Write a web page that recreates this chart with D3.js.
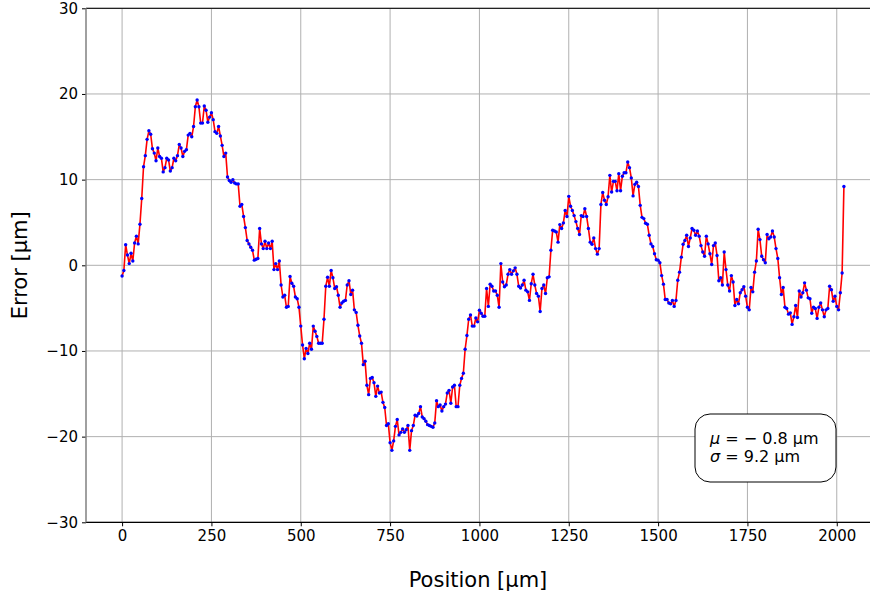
<!DOCTYPE html>
<html>
<head>
<meta charset="utf-8">
<script src="https://cdn.jsdelivr.net/npm/d3@7"></script>
<style>
  body { margin: 0; background: #fff; }
  svg { display: block; font-family: "DejaVu Sans", sans-serif; }
</style>
</head>
<body>
<svg id="chart" width="870" height="597"></svg>
<script>
/* measured error along the scan, one sample every 5 µm starting at 0 */
const xStart = 0, xStep = 5

const errors = [
  -1.25, -0.6, 2.4, 1.2, 0.2, 1.4, 0.5, 2.6, 3.4, 2.5,
  4.8, 7.8, 11.5, 12.8, 14.7, 15.7, 15.3, 13.6, 13.1, 12.2,
  13.7, 12.7, 12.5, 10.9, 11.4, 12.5, 12.3, 11.0, 11.4, 12.5,
  12.2, 12.8, 14.1, 13.7, 12.7, 13.3, 13.5, 15.2, 15.4, 15.0,
  16.2, 18.5, 19.3, 18.5, 16.6, 16.6, 18.6, 18.1, 16.7, 17.3,
  17.8, 17.0, 15.6, 15.4, 16.2, 15.1, 14.0, 12.7, 13.1, 10.3,
  9.9, 9.7, 10.0, 9.6, 9.5, 9.5, 6.9, 7.1, 5.7, 4.4,
  2.9, 2.5, 2.1, 1.75, 0.6, 0.7, 0.8, 4.3, 2.5, 1.95,
  2.8, 1.95, 2.6, 1.95, 2.8, -0.5, 0.2, -0.5, 0.5, -2.3,
  -3.7, -3.5, -4.9, -4.8, -1.3, -2.1, -2.45, -3.7, -3.9, -4.9,
  -7.1, -9.3, -10.9, -9.7, -10.3, -9.1, -9.8, -7.1, -7.7, -8.3,
  -9.1, -9.1, -9.1, -6.3, -2.45, -1.4, -2.45, -0.6, -1.45, -2.7,
  -2.5, -3.5, -4.9, -4.4, -4.2, -4.1, -2.3, -1.8, -3.4, -2.9,
  -5.2, -5.5, -7.0, -8.25, -9.1, -11.6, -11.2, -14.0, -15.1, -13.2,
  -13.1, -13.7, -15.3, -14.1, -14.9, -14.8, -16.0, -16.6, -18.7, -18.5,
  -20.7, -21.6, -20.5, -18.8, -18.0, -19.8, -19.5, -19.1, -19.5, -19.2,
  -18.7, -21.6, -19.3, -18.7, -17.5, -17.6, -17.3, -16.5, -17.7, -17.9,
  -18.2, -18.6, -18.7, -18.8, -18.9, -18.4, -15.8, -16.5, -16.3, -17.0,
  -16.5, -16.2, -14.9, -14.6, -16.1, -14.2, -14.0, -16.5, -16.5, -14.0,
  -13.2, -12.6, -9.8, -8.2, -6.3, -5.8, -7.1, -7.1, -6.15, -6.6,
  -5.25, -5.6, -5.95, -5.95, -2.7, -4.8, -2.2, -2.45, -3.0, -3.0,
  -3.5, -4.9, 0.2, -1.95, -2.5, -2.3, -1.05, -0.5, -1.05, -0.65,
  -0.3, -1.05, -2.45, -2.65, -2.3, -1.75, -2.9, -3.1, -4.1, -2.15,
  -1.05, -2.3, -3.3, -3.6, -5.4, -2.7, -2.3, -3.3, -1.45, -1.35,
  1.75, 4.1, 4.0, 3.9, 2.7, 4.75, 4.3, 4.95, 6.4, 5.7,
  8.05, 6.9, 6.4, 5.8, 5.1, 4.3, 3.6, 5.8, 5.7, 6.6,
  5.7, 4.3, 2.7, 2.45, 3.2, 1.95, 1.3, 1.95, 7.1, 8.5,
  7.6, 7.1, 8.0, 10.5, 8.55, 9.8, 9.8, 8.7, 10.7, 8.7,
  10.4, 10.8, 10.8, 12.05, 11.4, 10.2, 8.1, 9.45, 9.7, 9.2,
  7.0, 5.6, 5.45, 4.9, 4.8, 3.5, 2.5, 2.2, 1.35, 0.65,
  0.6, 0.3, -1.2, -2.2, -4.0, -4.0, -4.4, -4.5, -4.1, -4.8,
  -4.1, -1.75, -0.8, 0.95, 2.45, 2.9, 3.5, 2.2, 3.2, 4.3,
  4.1, 3.5, 4.0, 3.4, 2.3, 1.55, 1.05, 3.4, 2.5, 1.35,
  0.1, 2.3, 2.6, 1.15, -1.8, -1.45, -2.3, 1.55, -0.5, -2.3,
  -3.0, -1.2, -1.95, -4.7, -4.0, -4.5, -3.2, -2.85, -2.5, -3.6,
  -4.9, -5.2, -2.6, -3.1, -0.8, 0.5, 4.2, 3.0, 1.05, 0.65,
  0.3, 3.6, 3.1, 3.3, 4.0, 3.3, 1.95, 0.8, -1.45, -3.4,
  -2.6, -4.9, -5.05, -5.7, -5.55, -6.9, -6.0, -4.7, -6.1, -3.0,
  -3.7, -3.2, -2.05, -2.9, -3.8, -3.9, -5.6, -4.9, -5.05, -6.2,
  -4.9, -4.4, -5.2, -6.0, -5.2, -5.05, -2.45, -2.85, -4.2, -3.6,
  -4.8, -5.2, -3.2, -0.9, 9.2
]

const xTicks = [0, 250, 500, 750, 1000, 1250, 1500, 1750, 2000]
const yTicks = [-30, -20, -10, 0, 10, 20, 30]
const statLines = [
  {sym: "μ", text: " = − 0.8 µm"},
  {sym: "σ", text: " = 9.2 µm"}
]

const points = errors.map((e, i) => ({pos: xStart + i * xStep, err: e}))

const svg = d3.select("#chart")
const pLeft = 86, pTop = 8.3, pBottom = 522.3, pRight = 880

const x = d3.scaleLinear().domain([-101, 2121]).range([pLeft, pRight])
const y = d3.scaleLinear().domain([-30, 30]).range([pBottom, pTop])

const fmt = d => (d < 0 ? "\u2212" + Math.abs(d) : "" + d)

// grid
svg.append("g")
    .selectAll("line")
    .data(xTicks)
    .enter()
    .append("line")
    .attr("x1", d => x(d)).attr("x2", d => x(d))
    .attr("y1", pTop).attr("y2", pBottom)
    .attr("stroke", "#b0b0b0").attr("stroke-width", 1)

svg.append("g")
    .selectAll("line")
    .data(yTicks)
    .enter()
    .append("line")
    .attr("x1", pLeft).attr("x2", pRight)
    .attr("y1", d => y(d)).attr("y2", d => y(d))
    .attr("stroke", "#b0b0b0").attr("stroke-width", 1)

// axes
const xAxis = d3.axisBottom(x).tickValues(xTicks).tickFormat(fmt).tickSize(4).tickPadding(4)
const yAxis = d3.axisLeft(y).tickValues(yTicks).tickFormat(fmt).tickSize(4).tickPadding(4)

const gx = svg.append("g")
    .attr("transform", "translate(0," + pBottom + ")")
    .call(xAxis)
gx.select(".domain").remove()
gx.selectAll("text").attr("font-size", 15).attr("fill", "#000").attr("font-family", "DejaVu Sans")
gx.selectAll("line").attr("stroke", "#000")

const gy = svg.append("g")
    .attr("transform", "translate(" + pLeft + ",0)")
    .call(yAxis)
gy.select(".domain").remove()
gy.selectAll("text").attr("font-size", 15).attr("fill", "#000").attr("font-family", "DejaVu Sans")
gy.selectAll("line").attr("stroke", "#000")

// spines
svg.append("line").attr("x1", pLeft).attr("x2", pRight).attr("y1", pTop).attr("y2", pTop)
    .attr("stroke", "#222").attr("stroke-width", 1.2)
svg.append("line").attr("x1", pLeft).attr("x2", pRight).attr("y1", pBottom).attr("y2", pBottom)
    .attr("stroke", "#000").attr("stroke-width", 1.2)
svg.append("line").attr("x1", pLeft).attr("x2", pLeft).attr("y1", pTop).attr("y2", pBottom)
    .attr("stroke", "#808080").attr("stroke-width", 1.5)

// series
const line = d3.line().x(d => x(d.pos)).y(d => y(d.err))

svg.append("path")
    .datum(points)
    .attr("d", line)
    .attr("fill", "none")
    .attr("stroke", "#ff0000")
    .attr("stroke-width", 1.6)
    .attr("stroke-linejoin", "round")

svg.append("g")
    .selectAll("circle")
    .data(points)
    .enter()
    .append("circle")
    .attr("cx", d => x(d.pos))
    .attr("cy", d => y(d.err))
    .attr("r", 1.7)
    .attr("fill", "#0000ff")

// labels
svg.append("text")
    .attr("x", (x(-101) + 870) / 2)
    .attr("y", 587)
    .attr("text-anchor", "middle")
    .attr("font-size", 21)
    .text("Position [µm]")

svg.append("text")
    .attr("transform", "translate(27," + y(0) + ") rotate(-90)")
    .attr("text-anchor", "middle")
    .attr("font-size", 21)
    .text("Error [µm]")

// stats box
const box = svg.append("g").attr("transform", "translate(695,414)")
box.append("rect")
    .attr("width", 141).attr("height", 68)
    .attr("rx", 15).attr("ry", 15)
    .attr("fill", "#fff").attr("stroke", "#000").attr("stroke-width", 1)

box.selectAll("text.stat")
    .data(statLines)
    .enter()
    .append("text")
    .attr("class", "stat")
    .attr("x", 15)
    .attr("y", (d, i) => 30 + i * 18)
    .attr("font-size", 16)
    .each(function(d) {
      const t = d3.select(this)
      t.append("tspan").attr("font-style", "italic").text(d.sym)
      t.append("tspan").text(d.text)
    })
</script>
</body>
</html>
